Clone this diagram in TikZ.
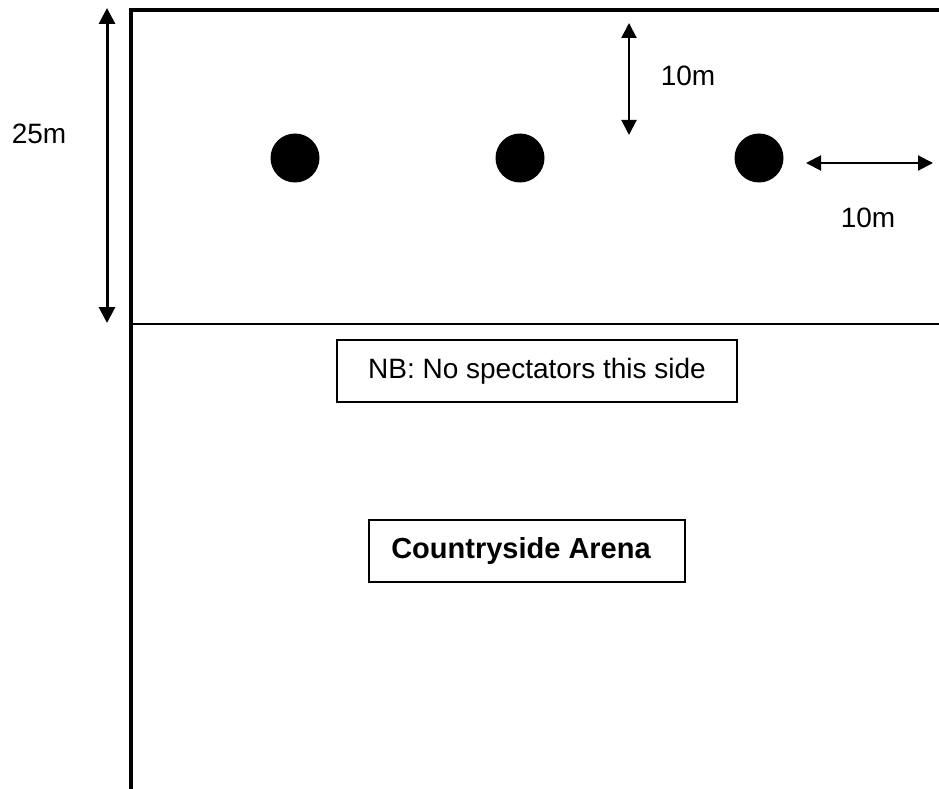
\documentclass[tikz,border=0pt]{standalone}
\usepackage{fontspec}
\setmainfont{Liberation Sans}
\usetikzlibrary{arrows.meta}

\begin{document}
\begin{tikzpicture}[x=1pt, y=-1pt, font=\fontsize{28}{34}\selectfont,
        post/.style = {fill, circle, inner sep=0pt, minimum size=49pt},
        dim/.style = {{Triangle[length=15pt,width=15pt]}-{Triangle[length=15pt,width=15pt]}, line width=2pt},
        note/.style = {draw, line width=1.2pt, minimum height=62pt}]
        \useasboundingbox (0,0) rectangle (939,789);

        % arena edges
        \draw[line width=4pt] (939,10) -- (131,10) -- (131,789);
        \draw[line width=2pt] (131,324) -- (939,324);

        % posts
        \node[post] (p1) at (295,158) {};
        \node[post] (p2) at (520,158) {};
        \node[post] (p3) at (759,158) {};

        \coordinate (a1) at (107,8);
        \coordinate (a2) at (107,323);
        \coordinate (b1) at (629,23);
        \coordinate (b2) at (629,135);
        \coordinate (c1) at (806,163);
        \coordinate (c2) at (933,163);

        \draw[dim, line width=3pt, {Triangle[length=16pt,width=16pt]}-{Triangle[length=16pt,width=16pt]}] (a1) -- (a2);
        \draw[dim] (b1) -- (b2);
        \draw[dim] (c1) -- (c2);

        \node (l1) at (39,134) {25m};
        \node (l2) at (688,76) {10m};
        \node (l3) at (868,218) {10m};

        \node[note, minimum width=400pt] (nb) at (537,371) {NB: No spectators this side};
        \node[note, minimum width=316pt] (arena) at (527,551) {\fontsize{29}{34}\selectfont\bfseries Countryside Arena\kern12pt};

    \end{tikzpicture}
\end{document}
